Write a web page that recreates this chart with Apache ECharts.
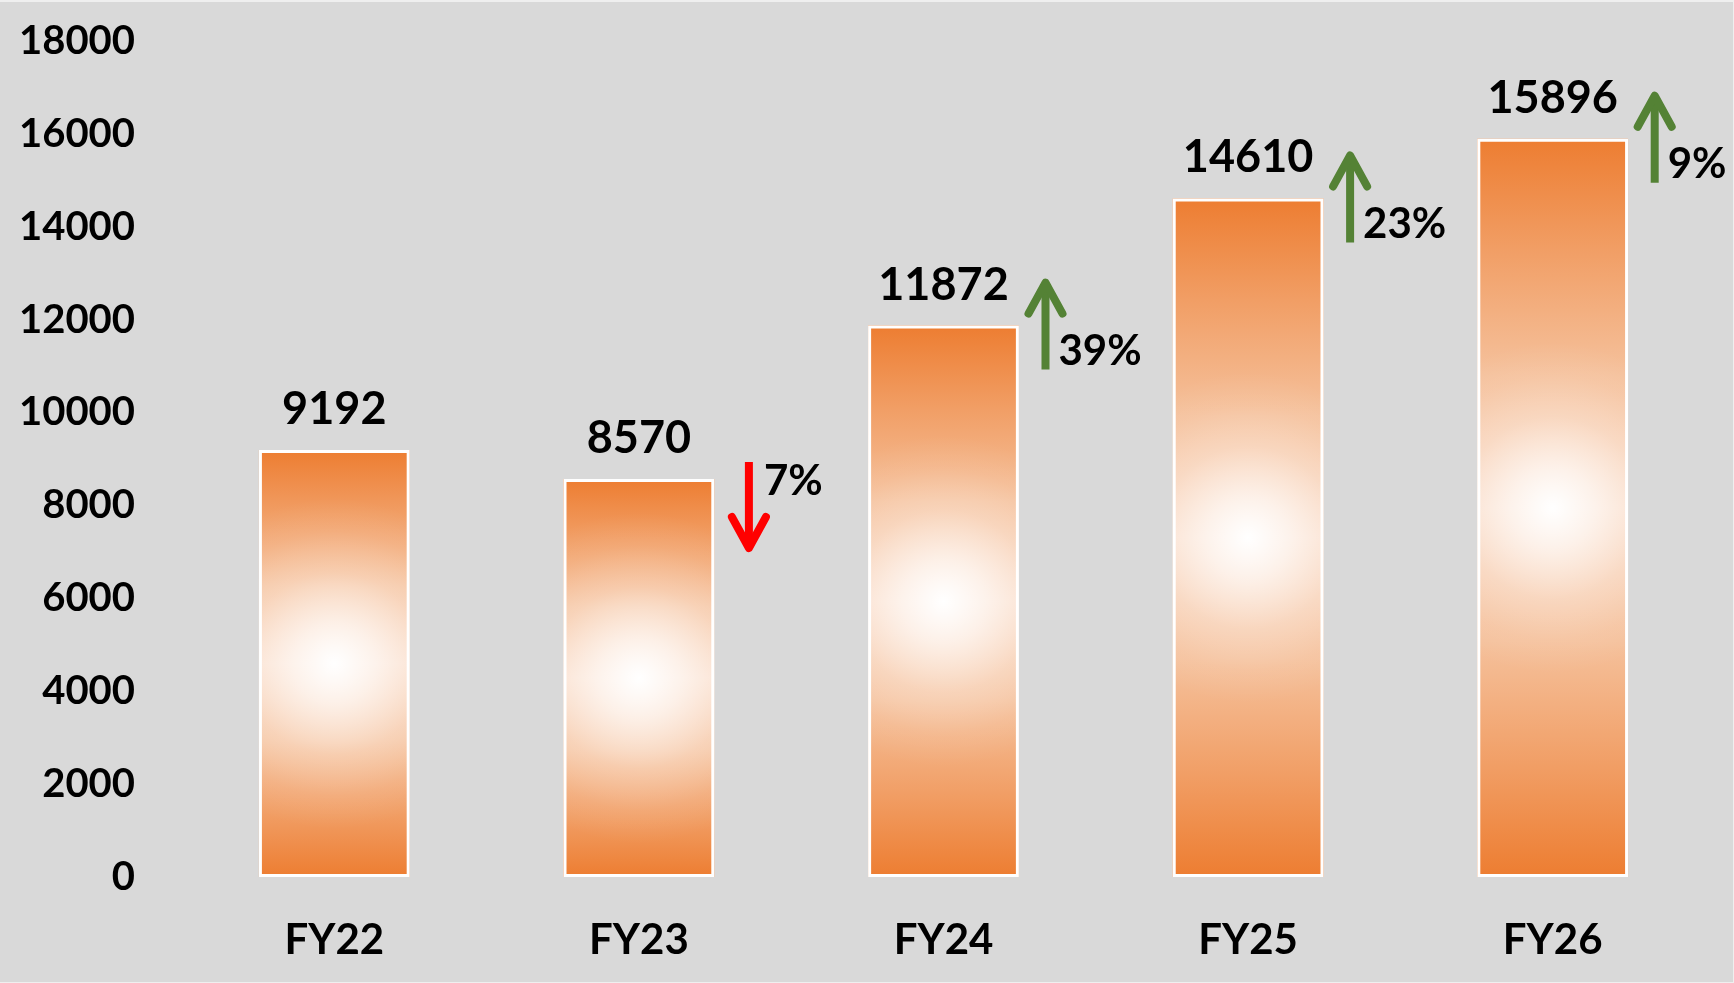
<!DOCTYPE html>
<html>
<head>
<meta charset="utf-8">
<script src="https://cdn.jsdelivr.net/npm/echarts@6/dist/echarts.min.js"></script>
<style>
  html, body { margin: 0; padding: 0; background: #efefef; }
  #main { position: absolute; left: 0; top: 2px; width: 1733px; height: 980px; background: #d9d9d9; }
</style>
</head>
<body>
<div id="main"></div>
<script>
// data
var categories = ['FY22', 'FY23', 'FY24', 'FY25', 'FY26']
var values = [9192, 8570, 11872, 14610, 15896]
var yTicks = { min: 0, max: 18000, step: 2000 }

var FONT = 'Lato'
var GREEN = '#548235'
var RED = '#ff0000'

// year-on-year change, drawn as arrow + percent next to each bar (from 2nd bar on)
var changeData = []
for (var i = 1; i < values.length; i++) {
    var pct = (values[i] - values[i - 1]) / values[i - 1] * 100
    changeData.push([i, values[i], pct])
}

var myChart = echarts.init(document.getElementById('main'))

// vertical fade: orange at the ends, pale in the middle
var bodyFill = new echarts.graphic.LinearGradient(0, 0, 0, 1, [
    { offset: 0, color: '#ed7d31' },
    { offset: 0.15, color: '#f19e65' },
    { offset: 0.32, color: '#f5c19c' },
    { offset: 0.5, color: '#f9d6bf' },
    { offset: 0.68, color: '#f5c19c' },
    { offset: 0.85, color: '#f19e65' },
    { offset: 1, color: '#ed7d31' }
])
// white glow in the centre, laid over the bar
var glowFill = new echarts.graphic.RadialGradient(0.5, 0.5, 1.1, [
    { offset: 0, color: 'rgba(255,255,255,1)' },
    { offset: 0.25, color: 'rgba(255,255,255,0.7)' },
    { offset: 0.55, color: 'rgba(255,255,255,0.28)' },
    { offset: 0.8, color: 'rgba(255,255,255,0.08)' },
    { offset: 1, color: 'rgba(255,255,255,0)' }
])

function renderChange(params, api) {
    var idx = api.value(0)
    var val = api.value(1)
    var pct = api.value(2)
    var p = api.coord([idx, val])
    var up = pct >= 0
    var color = up ? GREEN : RED
    var x, tip, tail, head, textX, textY
    if (up) {
        x = p[0] + 102
        tip = p[1] - 44
        tail = p[1] + 44
        head = [[x - 17, tip + 32], [x, tip + 1], [x + 17, tip + 32]]
        textX = x + 13
        textY = p[1] + 26
    } else {
        x = p[0] + 110
        tip = p[1] + 70
        tail = p[1] - 17
        head = [[x - 17, tip - 32], [x, tip - 1], [x + 17, tip - 32]]
        textX = x + 15
        textY = p[1] + 2
    }
    return {
        type: 'group',
        children: [
            {
                type: 'line',
                shape: { x1: x, y1: tail, x2: x, y2: up ? tip + 3 : tip - 3 },
                style: { stroke: color, lineWidth: 8, lineCap: 'butt' }
            },
            {
                type: 'polyline',
                shape: { points: head },
                style: { stroke: color, lineWidth: 8, lineCap: 'round', lineJoin: 'round', fill: null }
            },
            {
                type: 'text',
                style: {
                    x: textX,
                    y: textY,
                    text: Math.round(Math.abs(pct)) + '%',
                    fill: '#000',
                    font: 'bold 42px ' + FONT,
                    align: 'left',
                    verticalAlign: 'middle'
                }
            }
        ]
    }
}

var option = {
    animation: false,
    backgroundColor: '#d9d9d9',
    grid: { left: 182, right: 28, top: 39, bottom: 105 },
    xAxis: {
        type: 'category',
        data: categories,
        axisLine: { show: false },
        axisTick: { show: false },
        axisLabel: { fontSize: 42, fontWeight: 'bold', color: '#000', fontFamily: FONT, margin: 42 }
    },
    yAxis: {
        type: 'value',
        min: yTicks.min,
        max: yTicks.max,
        interval: yTicks.step,
        splitLine: { show: false },
        axisLine: { show: false },
        axisTick: { show: false },
        axisLabel: {
            fontSize: 40,
            fontWeight: 'bold',
            color: '#000',
            fontFamily: FONT,
            margin: 47,
            padding: [6, 0, 0, 0],
            formatter: function (v) { return String(v) }
        }
    },
    series: [
        {
            type: 'bar',
            data: values,
            barWidth: '49.5%',
            silent: true,
            itemStyle: { color: bodyFill }
        },
        {
            type: 'bar',
            data: values,
            barWidth: '49.5%',
            barGap: '-100%',
            silent: true,
            itemStyle: { color: glowFill, borderColor: '#ffffff', borderWidth: 3 },
            label: {
                show: true,
                position: 'top',
                distance: 18,
                fontSize: 45,
                fontWeight: 'bold',
                color: '#000',
                fontFamily: FONT
            }
        },
        {
            type: 'custom',
            data: changeData,
            silent: true,
            renderItem: renderChange,
            z: 5
        }
    ]
}

myChart.setOption(option)
</script>
</body>
</html>
